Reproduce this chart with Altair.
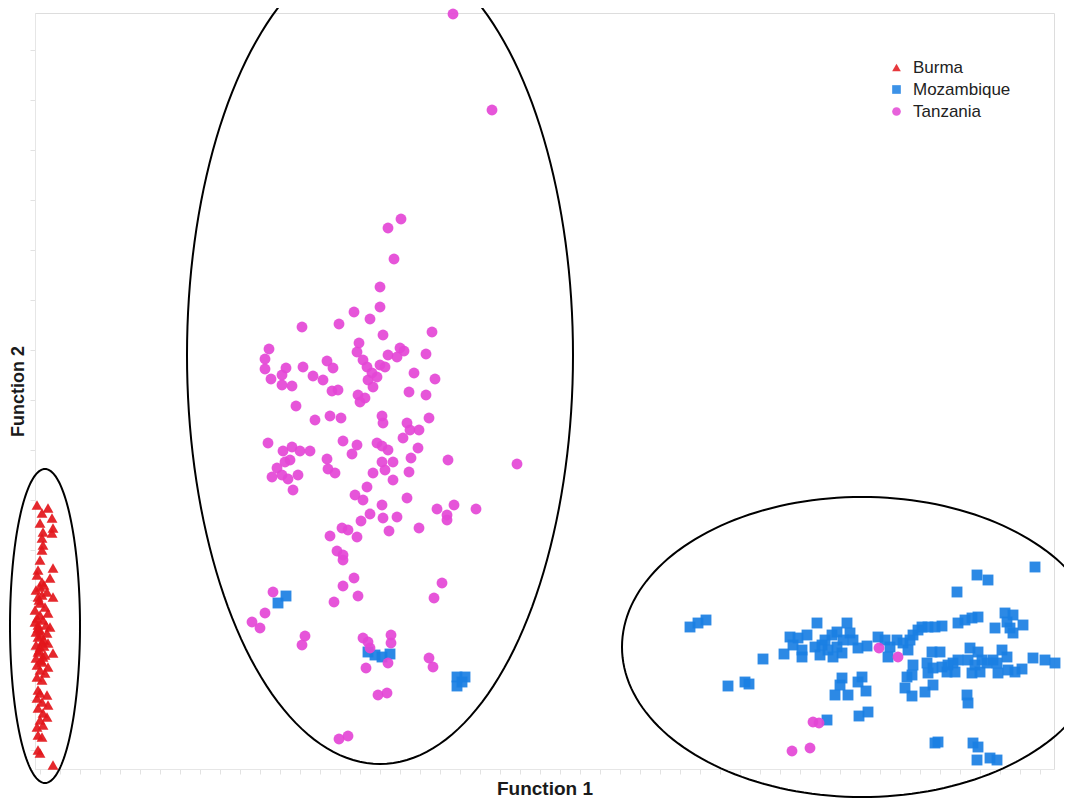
import altair as alt
import pandas as pd
import numpy as np

# ---- data (units = function-score positions) ----
burma_x = [37,48,42,52,40,53,43,52,42,43,42,40,53,38,37,50,42,40,47,53,38,40,45,48,40,37,43,50,38,40,47,38,48,42,40,53,38,43,42,48,37,40,45,37,42,38,40,47,37,42,48,38,43,47,40,37,43,38,42,38,40,53,
           35,38,41,44,36,39,45,36,41,44,36,46,35,39,42,44,36]
burma_y = [505,508,513,518,523,528,532,533,538,545,550,560,568,570,575,578,582,587,592,597,597,603,607,613,615,618,620,627,625,630,633,637,643,642,647,653,652,657,662,667,665,670,673,677,680,690,693,695,698,702,705,708,713,717,720,727,725,735,737,750,753,765,
           622,628,635,640,645,650,655,658,660,646,632,625,610,600,595,585,590]

moz_x = [690,698,706,728,745,749,763,784,790,798,807,793,802,802,817,
         815,820,825,832,837,828,837,842,847,850,853,858,867,833,843,822,
         878,885,890,897,903,910,913,918,922,928,935,942,908,888,913,907,912,905,912,
         842,840,835,848,862,858,866,859,868,827,925,933,
         932,940,927,933,942,948,953,958,955,947,928,
         957,977,988,1035,958,965,972,978,1005,1013,1007,1010,1013,995,1023,
         970,978,968,975,982,972,980,987,993,1002,1007,998,1008,1015,1022,997,
         1033,1045,1055,967,968,935,938,973,978,977,990,997,
         278,286,368,375,382,390,457,465,457,462]
moz_y = [627,623,620,686,682,684,659,654,637,638,635,645,650,657,623,
         647,655,640,635,632,650,647,653,623,633,640,648,646,657,640,645,
         637,640,647,640,643,640,635,630,627,627,627,626,650,657,665,677,675,688,696,
         678,685,695,695,677,682,691,716,712,720,692,685,
         652,652,663,668,667,665,663,660,672,672,673,
         592,575,580,567,623,620,618,617,613,615,622,628,633,628,625,
         648,652,660,665,660,673,672,663,660,650,657,673,670,672,669,663,
         658,660,663,695,703,743,742,743,747,760,758,760,
         603,596,652,655,657,654,677,677,686,682]

tan_x = [453,492,401,388,394,380,380,354,370,302,339,432,383,
         269,359,400,404,388,397,426,265,265,286,303,327,333,
         357,363,367,372,377,368,380,385,414,435,271,282,313,323,282,292,
         332,338,373,409,426,358,360,365,296,315,330,341,382,383,
         407,410,403,419,429,268,283,292,300,310,
         277,285,290,282,272,288,298,293,327,328,335,343,357,352,
         377,382,388,382,393,385,373,393,409,411,418,448,517,
         367,355,363,407,382,370,361,383,397,389,419,
         437,447,454,447,476,330,342,348,357,337,343,
         343,354,343,358,334,273,265,252,260,305,302,442,434,
         363,368,370,391,391,388,366,429,433,378,387,339,348,
         879,898,813,819,792,810]
tan_y = [14,110,219,228,259,287,307,312,319,327,324,332,335,
         349,343,348,351,355,357,354,359,369,368,367,361,368,
         352,360,367,373,377,380,365,367,373,379,379,375,376,380,385,386,
         391,390,387,392,395,395,402,398,406,420,416,418,416,423,
         423,430,438,430,418,443,451,447,451,451,
         468,462,460,475,477,479,475,490,459,469,473,441,445,454,
         443,446,450,462,462,470,473,480,472,458,448,460,464,
         487,495,500,498,505,514,521,518,517,531,528,
         509,515,505,520,509,536,528,530,537,551,555,
         560,578,586,596,602,592,613,622,628,636,645,583,598,
         638,642,648,635,643,663,668,658,667,695,693,739,736,
         648,657,722,723,751,748]

groups = ["Burma", "Mozambique", "Tanzania"]
colors = ["#e3161b", "#1a7fe3", "#e446d6"]
shapes = ["triangle-up", "square", "circle"]

# ellipses: centre x, centre y, half-width, half-height
ell_name = ["Burma", "Tanzania", "Mozambique"]
ell_cx = [45, 380, 862]
ell_cy = [626, 355, 647]
ell_rx = [35, 193, 240]
ell_ry = [157, 409, 150]

pts = pd.concat([
    pd.DataFrame({"x": burma_x, "y": burma_y, "Group": "Burma"}),
    pd.DataFrame({"x": moz_x, "y": moz_y, "Group": "Mozambique"}),
    pd.DataFrame({"x": tan_x, "y": tan_y, "Group": "Tanzania"}),
], ignore_index=True)

t = np.linspace(0, 2 * np.pi, 181)
rows = []
for n, cx, cy, rx, ry in zip(ell_name, ell_cx, ell_cy, ell_rx, ell_ry):
    for i, a in enumerate(t):
        rows.append({"e": n, "o": i, "x": cx + rx * np.cos(a), "y": cy + ry * np.sin(a)})
ell = pd.DataFrame(rows)

xs = alt.Scale(domain=[35, 1054], nice=False, zero=False)
ys = alt.Scale(domain=[13, 769], nice=False, zero=False, reverse=True)

xaxis = alt.Axis(title="Function 1", labels=False, ticks=True, tickCount=60, tickSize=5,
                 tickColor="#e2e2e2", domainColor="#e6e6e6", grid=False,
                 titleFontSize=19, titleFontWeight="bold", titleFont="Liberation Sans",
                 titleColor="#1a1a1a", titlePadding=5)
yaxis = alt.Axis(title="Function 2", labels=False, ticks=True, tickCount=16, tickSize=5,
                 tickColor="#e2e2e2", domainColor="#e6e6e6", grid=False,
                 titleFontSize=18, titleFontWeight="bold", titleFont="Liberation Sans",
                 titleColor="#1a1a1a", titlePadding=2)

points = alt.Chart(pts).mark_point(filled=True, size=118, opacity=0.92).encode(
    x=alt.X("x:Q", scale=xs, axis=xaxis),
    y=alt.Y("y:Q", scale=ys, axis=yaxis),
    color=alt.Color("Group:N", scale=alt.Scale(domain=groups, range=colors),
                    legend=alt.Legend(title=None, orient="none", legendX=853, legendY=46,
                                      labelFontSize=17, labelFont="Liberation Sans",
                                      labelColor="#222222", symbolSize=75, rowPadding=4,
                                      labelOffset=8, symbolOpacity=1)),
    shape=alt.Shape("Group:N", scale=alt.Scale(domain=groups, range=shapes)),
)

lines = alt.Chart(ell).mark_line(color="black", strokeWidth=2, clip=False).encode(
    x=alt.X("x:Q", scale=xs),
    y=alt.Y("y:Q", scale=ys),
    detail="e:N",
    order="o:Q",
)

chart = alt.layer(points, lines).properties(
    width=1019, height=756,
    autosize=alt.AutoSizeParams(type="none"),
    padding={"left": 27, "top": 5, "right": 10, "bottom": 35},
).configure_view(stroke="#e8e8e8").configure(background="white")

chart.save("out.html", embed_options={"renderer": "svg", "actions": False})
